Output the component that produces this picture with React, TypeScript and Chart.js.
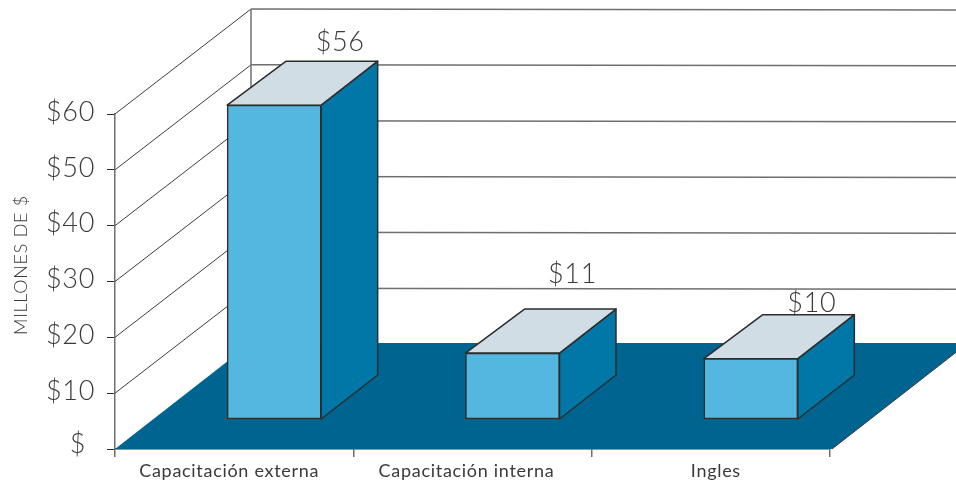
import React, { useEffect, useRef } from "react";
import { Chart, registerables } from "chart.js";

Chart.register(...registerables);

const categories = ["Capacitación externa", "Capacitación interna", "Ingles"];
const amounts = [56.3, 11.9, 10.9];
const amountLabels = ["$56", "$11", "$10"];
const yTicks = [0, 10, 20, 30, 40, 50, 60];
const axisTitle = "MILLONES DE $";

const FONT = "Lato, 'Open Sans', sans-serif";
const TEXT = "#3a3a3a";
const LINE = "#2d2d2d";
const GRID = "#6f6f6f";
const FLOOR = "#006491";
const FRONT = "#53b7e0";
const SIDE = "#0077a6";
const TOP = "#d0dde5";

const WALL_DX = 136;
const WALL_DY = -105;
const FLOOR_DY = -106;
const BAR_DX = 40;
const BAR_DY = -29.5;
const DEPTH_DX = 56.5;
const DEPTH_DY = -44;
const labelShift = [[66, -54], [60, -70], [61, -47]];
const catShift = [-5, -6, 5];

function path(ctx: CanvasRenderingContext2D, pts: number[][], fill: string | null, stroke: string | null, lw = 1) {
  ctx.beginPath();
  pts.forEach((p, i) => (i ? ctx.lineTo(p[0], p[1]) : ctx.moveTo(p[0], p[1])));
  if (fill) {
    ctx.closePath();
    ctx.fillStyle = fill;
    ctx.fill();
  }
  if (stroke) {
    ctx.strokeStyle = stroke;
    ctx.lineWidth = lw;
    ctx.lineJoin = "round";
    ctx.stroke();
  }
}

const box3d = {
  id: "box3d",
  afterLayout(chart: any) {
    const x = chart.scales.x;
    x.getLabelItems().forEach((it: any, i: number) => {
      it.options.translation[0] += catShift[i] || 0;
    });
    const y = chart.scales.y;
    y.getLabelItems().forEach((it: any) => {
      if (it.label === "$") {
        it.options.translation[0] -= 9;
        it.options.translation[1] -= 5;
      } else {
        it.options.translation[1] -= 2;
      }
    });
  },
  beforeDraw(chart: any) {
    (chart.ctx as any).letterSpacing = "0.7px";
  },
  beforeDatasetsDraw(chart: any) {
    const { ctx, scales } = chart;
    const left = scales.x.left;
    const right = scales.x.right;
    const y0 = scales.y.getPixelForValue(0);
    const backX = left + WALL_DX;
    const backY = y0 + FLOOR_DY;
    ctx.save();
    yTicks.forEach((v) => {
      const py = scales.y.getPixelForValue(v);
      if (v > 0) {
        path(ctx, [[left, py], [backX, py + WALL_DY]], null, "#3c3c3c", 1);
        path(ctx, [[backX, py + WALL_DY], [chart.width + 5, py + WALL_DY + 1]], null, GRID, 1.5);
      }
    });
    path(ctx, [[backX, scales.y.getPixelForValue(60) + WALL_DY], [backX, backY]], null, GRID, 1.5);
    path(ctx, [[left, y0], [right + 2, y0], [right + 2 + WALL_DX, backY], [backX, backY]], FLOOR, null);
    path(ctx, [[right + 2, y0], [right + 2 + WALL_DX, backY]], null, "#3c3c3c", 1);
    ctx.restore();
  },
  beforeDatasetDraw(chart: any, args: any) {
    const { ctx } = chart;
    const meta = chart.getDatasetMeta(args.index);
    ctx.save();
    meta.data.forEach((el: any) => {
      const l = el.x - el.width / 2 + BAR_DX;
      const r = el.x + el.width / 2 + BAR_DX;
      const t = el.y + BAR_DY;
      const b = el.base + BAR_DY;
      path(ctx, [[r, t], [r + DEPTH_DX, t + DEPTH_DY], [r + DEPTH_DX, b + DEPTH_DY], [r, b]], SIDE, LINE, 1.5);
      path(ctx, [[l, t], [l + DEPTH_DX + 2.5, t + DEPTH_DY], [r + DEPTH_DX, t + DEPTH_DY], [r, t]], TOP, LINE, 1.5);
    });
    ctx.translate(BAR_DX, BAR_DY);
  },
  afterDatasetDraw(chart: any) {
    chart.ctx.restore();
  },
  afterDatasetsDraw(chart: any) {
    const { ctx } = chart;
    const meta = chart.getDatasetMeta(0);
    ctx.save();
    ctx.fillStyle = TEXT;
    ctx.textAlign = "center";
    ctx.textBaseline = "alphabetic";
    ctx.font = `300 27px ${FONT}`;
    meta.data.forEach((el: any, i: number) => {
      ctx.fillText(amountLabels[i], el.x + BAR_DX + labelShift[i][0], el.y + BAR_DY + labelShift[i][1]);
    });
    ctx.translate(27, 265);
    ctx.rotate(-Math.PI / 2);
    ctx.font = `300 18px ${FONT}`;
    ctx.fillText(axisTitle, 0, 0);
    ctx.restore();
  },
};

export default function App() {
  const ref = useRef<HTMLCanvasElement>(null);
  useEffect(() => {
    const chart = new Chart(ref.current as HTMLCanvasElement, {
      type: "bar",
      data: {
        labels: categories,
        datasets: [
          {
            data: amounts,
            backgroundColor: FRONT,
            borderColor: LINE,
            borderWidth: 1.5,
            borderSkipped: false,
            barThickness: 94,
            clip: false,
          } as any,
        ],
      },
      options: {
        responsive: false,
        animation: false,
        layout: { padding: { top: 114, right: 126, left: 0, bottom: 0 } },
        plugins: { legend: { display: false }, tooltip: { enabled: false } },
        scales: {
          x: {
            afterFit: (s: any) => {
              s.height = 33;
            },
            border: { color: LINE, width: 1.5 },
            grid: { offset: true, drawOnChartArea: false, drawTicks: true, tickLength: 8, color: GRID, lineWidth: 1.5 },
            ticks: { color: TEXT, font: { family: FONT, size: 18 }, padding: 3, maxRotation: 0, autoSkip: false },
          },
          y: {
            min: 0,
            max: 60,
            afterFit: (s: any) => {
              s.width = 115;
            },
            afterBuildTicks: (s: any) => {
              s.ticks = yTicks.map((value) => ({ value }));
            },
            border: { color: GRID, width: 1.5 },
            grid: { drawOnChartArea: false, drawTicks: true, tickLength: 8, color: LINE, lineWidth: 1 },
            ticks: {
              color: TEXT,
              font: { family: FONT, size: 27, weight: "300" },
              padding: 12,
              callback: (v: any) => (v === 0 ? "$" : "$" + v),
            },
          },
        },
      },
      plugins: [box3d],
    } as any);
    return () => chart.destroy();
  }, []);
  return (
    <div style={{ position: "absolute", left: 0, top: 0, width: 956, height: 482, background: "#fff" }}>
      <canvas ref={ref} width={956} height={482} style={{ display: "block" }} />
    </div>
  );
}
